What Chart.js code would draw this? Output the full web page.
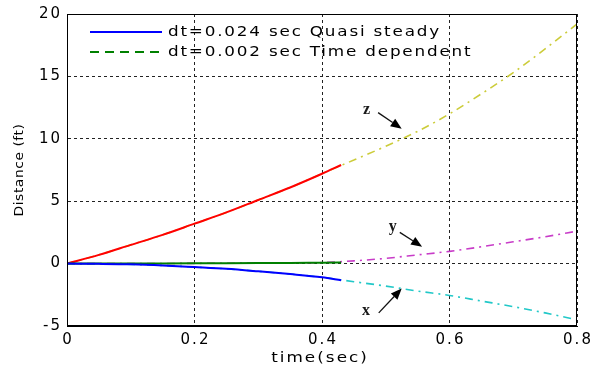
<!DOCTYPE html>
<html><head><meta charset="utf-8">
<script src="https://cdn.jsdelivr.net/npm/chart.js@4/dist/chart.umd.min.js"></script>
<style>html,body{margin:0;padding:0;background:#fff;overflow:hidden}</style>
</head><body>
<canvas id="c" width="592" height="367" style="display:block;width:592px;height:367px"></canvas>
<script>
// ---- data ----
const tQuasi = [0, 0.05, 0.1, 0.15, 0.2, 0.25, 0.3, 0.35, 0.4, 0.43];
const xQuasi = [0, -0.02, -0.06, -0.15, -0.28, -0.42, -0.62, -0.84, -1.1, -1.34];
const yQuasi = [0, 0, 0, 0.01, 0.02, 0.03, 0.04, 0.05, 0.07, 0.08];
const zQuasi = [0, 0.7, 1.5, 2.3, 3.2, 4.1, 5.1, 6.1, 7.2, 7.9];

const tTime = [0, 0.05, 0.1, 0.15, 0.2, 0.25, 0.3, 0.35, 0.4, 0.45, 0.5, 0.55, 0.6, 0.65, 0.7, 0.75, 0.8];
const xTime = [0, -0.02, -0.06, -0.15, -0.28, -0.42, -0.62, -0.84, -1.1, -1.45, -1.8, -2.2, -2.55, -3.0, -3.45, -3.95, -4.5];
const yTime = [0, 0, 0, 0.01, 0.02, 0.03, 0.04, 0.05, 0.08, 0.22, 0.42, 0.7, 0.98, 1.35, 1.75, 2.15, 2.6];
const zTime = [0, 0.7, 1.5, 2.3, 3.2, 4.1, 5.1, 6.1, 7.2, 8.3, 9.4, 10.6, 12.0, 13.6, 15.3, 17.2, 19.2];

const xTicks = [0, 0.2, 0.4, 0.6, 0.8];
const yTicks = [-5, 0, 5, 10, 15, 20];
const legendLabels = ['dt=0.024 sec Quasi steady', 'dt=0.002 sec Time dependent'];
const xTitle = 'time(sec)';
const yTitle = 'Distance (ft)';

// annotations (label position and arrow, in data units)
const annText = ['z', 'y', 'x'];
const annLabelT = [0.470, 0.511, 0.469];
const annLabelV = [12.3, 2.95, -3.8];
const annFromT = [0.488, 0.522, 0.489];
const annFromV = [12.1, 2.5, -3.95];
const annToT = [0.525, 0.557, 0.525];
const annToV = [10.8, 1.35, -2.0];

const pts = (t, v) => t.map((x, i) => ({x: x, y: v[i]}));
const DASHDOT = [8, 5, 2, 5];

const datasets = [
  {label: legendLabels[0], data: pts(tQuasi, xQuasi), borderColor: '#0000ff', borderWidth: 2, order: 0},
  {label: legendLabels[1], data: pts(tQuasi, yQuasi), borderColor: '#008000', borderWidth: 2, order: 0},
  {label: 'z quasi', data: pts(tQuasi, zQuasi), borderColor: '#ff0000', borderWidth: 2, order: 0},
  {label: 'x time', data: pts(tTime, xTime), borderColor: '#22c8c8', borderWidth: 1.6, borderDash: DASHDOT, order: 1},
  {label: 'y time', data: pts(tTime, yTime), borderColor: '#c83cc8', borderWidth: 1.6, borderDash: DASHDOT, order: 1},
  {label: 'z time', data: pts(tTime, zTime), borderColor: '#cccc3a', borderWidth: 1.6, borderDash: DASHDOT, order: 1}
];

const FONT = '"DejaVu Sans", sans-serif';
const TICK_SPACING = '2px';

function stretchedText(ctx, text, x, y, sx) {
  ctx.save();
  ctx.translate(x, y);
  ctx.scale(sx, 1);
  ctx.fillText(text, 0, 0);
  ctx.restore();
}

const deco = {
  id: 'deco',
  beforeDraw(chart) {
    chart.ctx.letterSpacing = TICK_SPACING;
  },
  afterDatasetsDraw(chart) {
    const ctx = chart.ctx, a = chart.chartArea;
    const xs = chart.scales.x, ys = chart.scales.y;
    ctx.save();
    // frame
    ctx.strokeStyle = '#000';
    ctx.lineWidth = 1;
    ctx.setLineDash([]);
    ctx.strokeRect(a.left + 0.5, a.top + 0.5, a.right - a.left - 1, a.bottom - a.top - 1);
    // legend
    const lx0 = 90, lx1 = 162, ly = [32, 52];
    ctx.lineWidth = 2;
    ctx.strokeStyle = '#0000ff';
    ctx.beginPath(); ctx.moveTo(lx0, ly[0]); ctx.lineTo(lx1, ly[0]); ctx.stroke();
    ctx.strokeStyle = '#008000';
    ctx.setLineDash([9, 6]);
    ctx.beginPath(); ctx.moveTo(lx0, ly[1]); ctx.lineTo(lx1, ly[1]); ctx.stroke();
    ctx.setLineDash([]);
    ctx.fillStyle = '#000';
    ctx.font = '14px ' + FONT;
    ctx.letterSpacing = '1.5px';
    ctx.textAlign = 'left';
    ctx.textBaseline = 'middle';
    stretchedText(ctx, legendLabels[0], 168, ly[0], 1.2);
    stretchedText(ctx, legendLabels[1], 168, ly[1], 1.2);
    // annotations
    ctx.letterSpacing = '0px';
    ctx.font = 'bold 16px "Liberation Serif", serif';
    ctx.textAlign = 'center';
    for (let i = 0; i < annText.length; i++) {
      ctx.fillStyle = '#1a1a1a';
      const px = xs.getPixelForValue(annLabelT[i]), py = ys.getPixelForValue(annLabelV[i]);
      ctx.fillText(annText[i], px, py);
      const fx = xs.getPixelForValue(annFromT[i]), fy = ys.getPixelForValue(annFromV[i]);
      const tx = xs.getPixelForValue(annToT[i]), ty = ys.getPixelForValue(annToV[i]);
      const ang = Math.atan2(ty - fy, tx - fx);
      const hl = 11, hw = 4.5;
      const bx = tx - hl * Math.cos(ang), by = ty - hl * Math.sin(ang);
      ctx.strokeStyle = '#111';
      ctx.lineWidth = 1.3;
      ctx.beginPath(); ctx.moveTo(fx, fy); ctx.lineTo(bx, by); ctx.stroke();
      ctx.beginPath();
      ctx.moveTo(tx, ty);
      ctx.lineTo(bx + hw * Math.sin(ang), by - hw * Math.cos(ang));
      ctx.lineTo(bx - hw * Math.sin(ang), by + hw * Math.cos(ang));
      ctx.closePath();
      ctx.fillStyle = '#000';
      ctx.fill();
    }
    // axis titles
    ctx.fillStyle = '#000';
    ctx.font = '14px ' + FONT;
    ctx.letterSpacing = '1.7px';
    ctx.textAlign = 'center';
    ctx.textBaseline = 'alphabetic';
    stretchedText(ctx, xTitle, (a.left + a.right) / 2 - 2, 362, 1.2);
    ctx.save();
    ctx.translate(23, (a.top + a.bottom) / 2);
    ctx.rotate(-Math.PI / 2);
    ctx.font = '12px ' + FONT;
    ctx.letterSpacing = '0.5px';
    stretchedText(ctx, yTitle, 0, 0, 1.15);
    ctx.restore();
    ctx.restore();
    ctx.letterSpacing = TICK_SPACING;
  }
};

new Chart(document.getElementById('c'), {
  type: 'line',
  data: {datasets: datasets},
  options: {
    responsive: false,
    animation: false,
    devicePixelRatio: 1,
    layout: {padding: {top: 14, right: 15, left: 0, bottom: 0}},
    elements: {point: {radius: 0}, line: {tension: 0, cubicInterpolationMode: 'monotone', fill: false}},
    plugins: {legend: {display: false}, tooltip: {enabled: false}, title: {display: false}},
    scales: {
      x: {
        type: 'linear', min: 0, max: 0.8,
        afterBuildTicks: s => { s.ticks = xTicks.map(v => ({value: v})); },
        afterFit: s => { s.height = 41; s.paddingLeft = 0; s.paddingRight = 0; },
        ticks: {
          color: '#000', font: {family: FONT, size: 15}, padding: 5, labelOffset: 1,
          maxRotation: 0, autoSkip: false,
          callback: v => (v === 0 ? '0' : v.toFixed(1))
        },
        grid: {color: '#222', lineWidth: 1, drawTicks: false},
        border: {display: true, color: '#000', width: 1, dash: [3, 3]}
      },
      y: {
        type: 'linear', min: -5, max: 20,
        afterBuildTicks: s => { s.ticks = yTicks.map(v => ({value: v})); },
        afterFit: s => { s.width = 67; s.paddingTop = 0; s.paddingBottom = 0; },
        ticks: {
          color: '#000', font: {family: FONT, size: 15}, padding: 5, autoSkip: false,
          callback: v => String(v)
        },
        grid: {color: '#222', lineWidth: 1, drawTicks: false},
        border: {display: true, color: '#000', width: 1, dash: [3, 3]}
      }
    }
  },
  plugins: [deco]
});
</script>
</body></html>
